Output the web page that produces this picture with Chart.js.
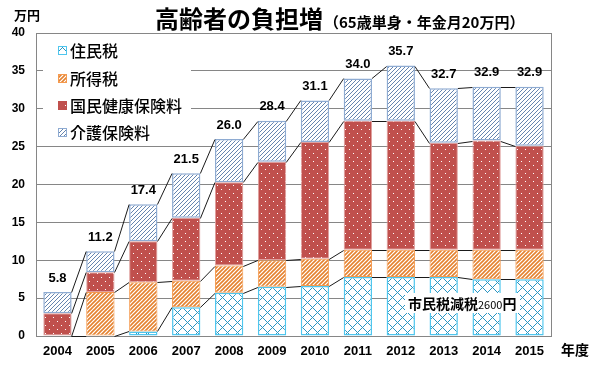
<!DOCTYPE html>
<html>
<head>
<meta charset="utf-8">
<script src="https://cdn.jsdelivr.net/npm/chart.js@4"></script>
<style>
  html, body { margin: 0; padding: 0; background: #fff; }
  #wrap { width: 596px; height: 366px; }
</style>
</head>
<body>
<div id="wrap"><canvas id="burdenChart" width="596" height="366"></canvas></div>
<script>
// 高齢者の負担増 (65歳単身・年金月20万円), 単位: 万円
const years = ["2004", "2005", "2006", "2007", "2008", "2009", "2010", "2011", "2012", "2013", "2014", "2015"];
const residentTax = [0, 0, 0.6, 3.8, 5.7, 6.5, 6.6, 7.8, 7.8, 7.8, 7.5, 7.5];
const incomeTax = [0, 5.8, 6.5, 3.5, 3.6, 3.5, 3.6, 3.6, 3.6, 3.6, 3.9, 3.9];
const healthIns = [3.0, 2.6, 5.4, 8.3, 11.0, 13.0, 15.4, 17.0, 17.0, 14.1, 14.4, 13.7];
const careIns = [2.8, 2.8, 4.9, 5.9, 5.7, 5.4, 5.5, 5.6, 7.3, 7.2, 7.1, 7.8];
const seriesNames = ["住民税", "所得税", "国民健康保険料", "介護保険料"];
const yTicks = [0, 5, 10, 15, 20, 25, 30, 35, 40];

const JP = '"Noto Sans CJK JP", sans-serif';
const NUM = '"Liberation Sans", Arial, sans-serif';

// fill patterns
function makePattern(w, h, draw) {
  const c = document.createElement("canvas");
  c.width = w; c.height = h;
  const g = c.getContext("2d");
  draw(g, w, h);
  return g.createPattern(c, "repeat");
}

const residentFill = makePattern(10, 10, (g, w, h) => {
  g.fillStyle = "#fff"; g.fillRect(0, 0, w, h);
  g.strokeStyle = "#2b95c2"; g.lineWidth = 1;
  g.beginPath();
  g.moveTo(0, 10); g.lineTo(10, 0);
  g.moveTo(0, 5); g.lineTo(5, 10);
  g.moveTo(5, 0); g.lineTo(10, 5);
  g.stroke();
});
const incomeFill = makePattern(4, 4, (g, w, h) => {
  g.fillStyle = "#fff"; g.fillRect(0, 0, w, h);
  g.strokeStyle = "#e5822f"; g.lineWidth = 1.6;
  g.beginPath();
  g.moveTo(-1, 5); g.lineTo(5, -1);
  g.moveTo(-1, 1); g.lineTo(1, -1);
  g.moveTo(3, 5); g.lineTo(5, 3);
  g.stroke();
});
const healthFill = makePattern(8, 8, (g, w, h) => {
  g.fillStyle = "#c0504d"; g.fillRect(0, 0, w, h);
  g.fillStyle = "#fff";
  g.fillRect(1, 1, 1, 1);
  g.fillRect(5, 5, 1, 1);
});
const careFill = makePattern(4, 4, (g, w, h) => {
  g.fillStyle = "#fff"; g.fillRect(0, 0, w, h);
  g.strokeStyle = "#5577a6"; g.lineWidth = 0.9;
  g.beginPath();
  g.moveTo(-1, 5); g.lineTo(5, -1);
  g.moveTo(-1, 1); g.lineTo(1, -1);
  g.moveTo(3, 5); g.lineTo(5, 3);
  g.stroke();
});

const fills = [residentFill, incomeFill, healthFill, careFill];
const borders = ["#4fc6ee", "#f59a4e", "#e0a09e", "#8eabd2"];

// series lines between bars, totals, legend, texts
const decorPlugin = {
  id: "decor",
  beforeDatasetsDraw(chart) {
    const { ctx, chartArea: a } = chart;
    ctx.save();
    ctx.strokeStyle = "#868686";
    ctx.lineWidth = 1;
    ctx.beginPath();
    ctx.moveTo(a.right + 0.5, a.top);
    ctx.lineTo(a.right + 0.5, a.bottom);
    ctx.stroke();
    ctx.restore();
  },
  afterDatasetsDraw(chart) {
    const { ctx, chartArea: a } = chart;
    ctx.save();
    // series lines
    ctx.strokeStyle = "#1a1a1a";
    ctx.lineWidth = 1;
    for (let d = 0; d < 4; d++) {
      const bars = chart.getDatasetMeta(d).data;
      ctx.beginPath();
      for (let i = 0; i < bars.length - 1; i++) {
        const b0 = bars[i], b1 = bars[i + 1];
        ctx.moveTo(b0.x + b0.width / 2, Math.round(b0.y) + 0.5);
        ctx.lineTo(b1.x - b1.width / 2, Math.round(b1.y) + 0.5);
      }
      ctx.stroke();
    }
    // totals
    const top = chart.getDatasetMeta(3).data;
    ctx.fillStyle = "#000";
    ctx.font = "bold 13px " + NUM;
    ctx.textAlign = "center";
    ctx.textBaseline = "middle";
    top.forEach((b, i) => {
      const total = residentTax[i] + incomeTax[i] + healthIns[i] + careIns[i];
      ctx.fillText(total.toFixed(1), b.x, b.y - 14);
    });

    // legend
    ctx.fillStyle = "#fff";
    ctx.fillRect(a.left + 7, a.top + 2, 148, 108);
    const rows = [50, 78, 105, 132];
    ctx.textAlign = "left";
    ctx.font = "500 16px " + JP;
    rows.forEach((y, i) => {
      ctx.fillStyle = fills[i];
      ctx.fillRect(58, y - 4, 8, 8);
      ctx.strokeStyle = borders[i] === "#e0a09e" ? "#c0504d" : borders[i];
      ctx.lineWidth = 1;
      ctx.strokeRect(58.5, y - 3.5, 8, 8);
      ctx.fillStyle = "#000";
      ctx.fillText(seriesNames[i], 70, y + 1);
    });

    // note box
    ctx.fillStyle = "#fff";
    ctx.fillRect(405, 293, 115, 20);
    ctx.fillStyle = "#000";
    ctx.font = "bold 14px " + JP;
    ctx.fillText("市民税減税", 408, 304);
    let x = 408 + ctx.measureText("市民税減税").width;
    ctx.font = "11px " + JP;
    ctx.fillText("2600", x, 305);
    x += ctx.measureText("2600").width;
    ctx.font = "bold 14px " + JP;
    ctx.fillText("円", x, 304);
    ctx.restore();
  },
  afterDraw(chart) {
    const { ctx } = chart;
    ctx.save();
    ctx.fillStyle = "#000";
    ctx.textBaseline = "middle";
    ctx.textAlign = "left";
    ctx.font = "bold 24px " + JP;
    ctx.fillText("高齢者の負担増", 155, 19);
    const w = ctx.measureText("高齢者の負担増").width;
    ctx.font = "bold 15px " + JP;
    ctx.fillText("（65歳単身・年金月20万円）", 155 + w + 1, 22);
    ctx.font = "bold 13px " + JP;
    ctx.fillText("万円", 14, 15);
    ctx.font = "bold 14px " + JP;
    ctx.fillText("年度", 561, 350);
    ctx.restore();
  }
};

const dataSeries = [residentTax, incomeTax, healthIns, careIns];

new Chart(document.getElementById("burdenChart"), {
  type: "bar",
  data: {
    labels: years,
    datasets: dataSeries.map((vals, i) => ({
      label: seriesNames[i],
      data: vals,
      backgroundColor: fills[i],
      borderColor: borders[i],
      borderWidth: i === 0 || i === 3 ? 1.5 : 1,
      borderSkipped: false,
      barPercentage: 0.66,
      categoryPercentage: 1,
    })),
  },
  options: {
    responsive: false,
    animation: false,
    devicePixelRatio: 1,
    layout: { padding: { top: 33, right: 45, left: 0, bottom: 0 } },
    plugins: {
      legend: { display: false },
      tooltip: { enabled: false },
      title: { display: false },
    },
    scales: {
      x: {
        stacked: true,
        grid: { display: false, drawTicks: false },
        border: { color: "#868686" },
        ticks: { color: "#000", font: { family: NUM, size: 13, weight: "bold" }, padding: 8 },
        afterFit(scale) { scale.height = 30; },
      },
      y: {
        stacked: true,
        min: 0,
        max: 40,
        afterBuildTicks(scale) { scale.ticks = yTicks.map(v => ({ value: v })); },
        grid: { color: "#868686", drawTicks: false },
        border: { color: "#868686" },
        ticks: { color: "#000", font: { family: NUM, size: 12, weight: "bold" }, padding: 11 },
        afterFit(scale) { scale.width = 36; },
      },
    },
  },
  plugins: [decorPlugin],
});
</script>
</body>
</html>
